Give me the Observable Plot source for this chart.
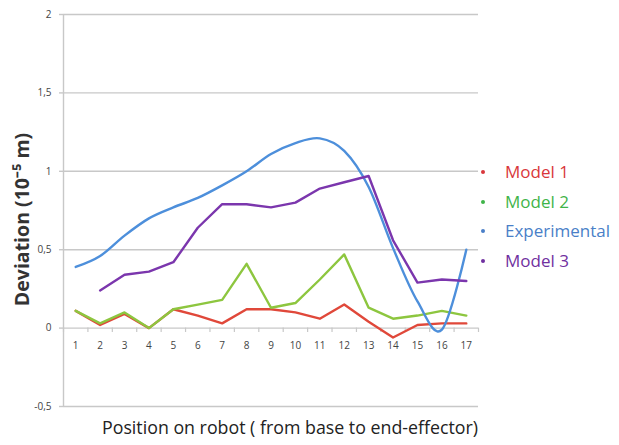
<!DOCTYPE html>
<html>
<head>
<meta charset="utf-8">
<script src="https://cdn.jsdelivr.net/npm/d3@7"></script>
<script src="https://cdn.jsdelivr.net/npm/@observablehq/plot@0.6"></script>
<style>
  body { margin: 0; background: #fff; }
  #wrap { position: relative; width: 619px; height: 445px; font-family: "Open Sans", sans-serif; }
  #legend { position: absolute; left: 478px; top: 157px; }
  .item { position: relative; height: 29.5px; line-height: 29.5px; font-size: 17px; padding-left: 27px; }
  .item .dot { position: absolute; left: 3px; top: 13px; width: 4px; height: 4px; border-radius: 50%; }
</style>
</head>
<body>
<div id="wrap"><div id="legend"></div></div>
<script>
const positions = [1,2,3,4,5,6,7,8,9,10,11,12,13,14,15,16,17];
const model1 =       [0.11,0.02,0.09,0.00,0.12,0.08,0.03,0.12,0.12,0.10,0.06,0.15,0.04,-0.06,0.02,0.03,0.03];
const model2 =       [0.11,0.03,0.10,0.00,0.12,0.15,0.18,0.41,0.13,0.16,0.31,0.47,0.13,0.06,0.08,0.11,0.08];
const experimental = [0.39,0.46,0.59,0.70,0.77,0.83,0.91,1.00,1.11,1.18,1.21,1.13,0.90,0.51,0.17,-0.01,0.50];
const model3 =       [null,0.24,0.34,0.36,0.42,0.64,0.79,0.79,0.77,0.80,0.89,0.93,0.97,0.56,0.29,0.31,0.30];
const yTicks = [-0.5, 0, 0.5, 1, 1.5, 2];
const seriesNames = ["Model 1", "Model 2", "Experimental", "Model 3"];
const lineColors = ["#e0483a", "#8dc63f", "#4d8fdb", "#7b36ad"];
const textColors = ["#d9373b", "#3fb449", "#4a7fc8", "#7030a0"];
const xBounds = [0.5,1.5,2.5,3.5,4.5,5.5,6.5,7.5,8.5,9.5,10.5,11.5,12.5,13.5,14.5,15.5,16.5,17.5];

const grid = "#c8c8c8";
const plot = Plot.plot({
  width: 619,
  height: 445,
  marginLeft: 63,
  marginRight: 141,
  marginTop: 14,
  marginBottom: 39,
  style: { fontFamily: "Open Sans, sans-serif", background: "transparent" },
  x: { domain: [0.5, 17.5], axis: null },
  y: { domain: [-0.5, 2], axis: null },
  marks: [
    Plot.gridY(yTicks, { stroke: grid, strokeOpacity: 1, strokeWidth: 1.4 }),
    Plot.ruleX([0.5], { stroke: grid, strokeWidth: 1.4 }),
    Plot.axisY(yTicks, {
      tickSize: 4, tickPadding: 8, stroke: grid, strokeWidth: 1.4,
      tickFormat: d => String(d).replace(".", ","),
      fontSize: 10, color: "#444", label: null
    }),
    Plot.ruleX(xBounds, { x: d => d, y1: 0, y2: -0.028, stroke: grid, strokeWidth: 1.2 }),
    Plot.text(positions, { x: d => d, y: 0, dy: 18, text: d => String(d), fontSize: 10, fill: "#444" }),
    Plot.line(positions, { x: d => d, y: (d, i) => model1[i], stroke: lineColors[0], strokeWidth: 2.4 }),
    Plot.line(positions, { x: d => d, y: (d, i) => model2[i], stroke: lineColors[1], strokeWidth: 2.4 }),
    Plot.line(positions, { x: d => d, y: (d, i) => experimental[i], stroke: lineColors[2], strokeWidth: 2.4, curve: "cardinal" }),
    Plot.line(positions, { x: d => d, y: (d, i) => model3[i], stroke: lineColors[3], strokeWidth: 2.4 }),
    Plot.text(["Deviation (10⁻⁵ m)"], { frameAnchor: "left", textAnchor: "middle", dx: -41, dy: 9, rotate: -90, fontSize: 19.5, fontWeight: "bold", fill: "#333", text: d => d }),
    Plot.text(["Position on robot ( from base to end-effector)"], { frameAnchor: "bottom", textAnchor: "middle", dx: 19, dy: 27, fontSize: 17.8, fill: "#222", text: d => d })
  ]
});
document.getElementById("wrap").prepend(plot);
const legend = document.getElementById("legend");
seriesNames.forEach((name, i) => {
  const div = document.createElement("div");
  div.className = "item";
  div.style.color = textColors[i];
  div.innerHTML = `<span class="dot" style="background:${textColors[i]}"></span>${name}`;
  legend.appendChild(div);
});
</script>
</body>
</html>
